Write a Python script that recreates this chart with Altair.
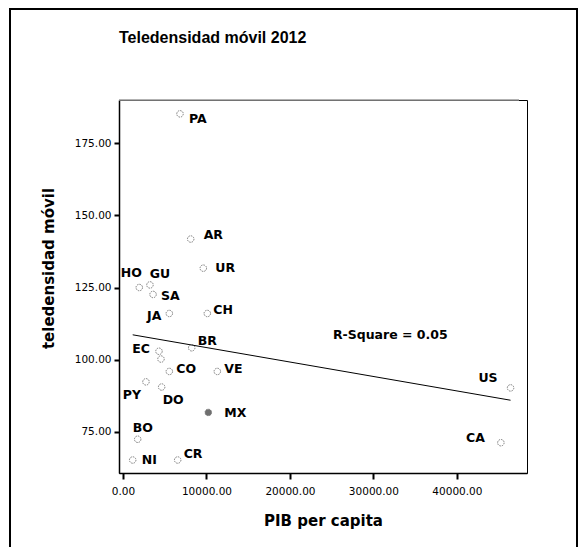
import altair as alt
import pandas as pd

# ---- data ----
codes = ["PA", "AR", "UR", "HO", "GU", "SA", "JA", "CH", "BR", "EC", "",
         "CO", "VE", "PY", "DO", "MX", "BO", "NI", "CR", "US", "CA"]
pib = [6830, 8110, 9620, 1950, 3230, 3600, 5550, 10100, 8230, 4310, 4550,
       5550, 11300, 2750, 4630, 10220, 1760, 1160, 6550, 46430, 45270]
tele = [185.2, 141.8, 131.7, 125.0, 125.9, 122.6, 116.0, 116.0, 104.1, 102.9, 100.2,
        95.9, 95.9, 92.3, 90.5, 81.7, 72.4, 65.2, 65.2, 90.2, 71.2]

x_ticks = [0, 10000, 20000, 30000, 40000]
y_ticks = [75, 100, 125, 150, 175]
title_text = "Teledensidad móvil 2012"

# label placement (pixel offsets, alignment) -- styling only
label_pos = {
    "PA": (9, 5, "left"), "AR": (13, -4, "left"), "UR": (12, 0, "left"),
    "HO": (-8, -15, "center"), "GU": (10, -11, "center"), "SA": (8, 2, "left"),
    "JA": (-8, 3, "right"), "CH": (6, -3, "left"), "BR": (6, -7, "left"),
    "EC": (-9, -2, "right"), "CO": (7, -2, "left"), "VE": (7, -2, "left"),
    "PY": (-5, 13, "right"), "DO": (1, 13, "left"), "MX": (16, 1, "left"),
    "BO": (-5, -11, "left"), "NI": (9, 0, "left"), "CR": (6, -6, "left"),
    "US": (-13, -10, "right"), "CA": (-16, -5, "right"),
}
RSQ_X, RSQ_Y = 25150, 108.7

df = pd.DataFrame({"code": codes, "pib": pib, "tele": tele})

xscale = alt.Scale(domain=[-480, 48400], nice=False, zero=False)
yscale = alt.Scale(domain=[60.7, 190], nice=False, zero=False)

X = alt.X("pib:Q", scale=xscale,
          axis=alt.Axis(values=x_ticks, format=".2f", title="PIB per capita",
                        grid=False, tickSize=6, tickWidth=2, labelPadding=7,
                        titlePadding=17, titleFontSize=15))
Y = alt.Y("tele:Q", scale=yscale,
          axis=alt.Axis(values=y_ticks, format=".2f", title="teledensidad móvil",
                        grid=False, tickSize=5, tickWidth=2, labelPadding=3,
                        titleX=-63, titleY=168, titleFontSize=15))

base = alt.Chart(df)

points = base.mark_point(shape="circle", filled=True, size=42, stroke="#444",
                         strokeWidth=1, strokeDash=[1.5, 1]).encode(
    x=X, y=Y,
    fill=alt.condition(alt.datum.code == "MX", alt.value("#333"), alt.value("transparent")),
)

reg = base.transform_regression("pib", "tele").mark_line(color="black", strokeWidth=1).encode(
    x="pib:Q", y="tele:Q")

rsq = base.transform_regression("pib", "tele", params=True).transform_calculate(
    txt="'R-Square = ' + format(datum.rSquared, '.2f')"
).mark_text(align="left", baseline="middle", font="DejaVu Sans", fontWeight="bold",
            fontSize=12.5, color="black").encode(
    x=alt.datum(RSQ_X), y=alt.datum(RSQ_Y), text="txt:N")

labels = []
for c, (dx, dy, al) in label_pos.items():
    labels.append(
        base.transform_filter(alt.datum.code == c).mark_text(
            dx=dx, dy=dy, align=al, baseline="middle", font="DejaVu Sans",
            fontWeight="bold", fontSize=12.5, color="black").encode(
            x="pib:Q", y="tele:Q", text="code:N")
    )

one = alt.Chart(pd.DataFrame({"t": [title_text]}))

frame = one.mark_rect(filled=False, stroke="black", strokeWidth=2, clip=False).encode(
    x=alt.value(-109), x2=alt.value(458), y=alt.value(-91), y2=alt.value(470))

top_edge = one.mark_rule(color="#999", strokeWidth=1.5).encode(
    x=alt.value(0), x2=alt.value(400), y=alt.value(0))

title = one.mark_text(align="left", baseline="middle", font="Liberation Sans",
                      fontSize=16, fontWeight="bold", color="black", clip=False).encode(
    x=alt.value(0), y=alt.value(-62), text="t:N")

chart = alt.layer(frame, title, reg, points, rsq, *labels, top_edge).properties(
    width=408, height=373,
    autosize=alt.AutoSizeParams(type="none"),
    padding={"left": 111, "top": 92, "right": 52, "bottom": 74},
    background="white",
).configure_view(stroke="black", strokeWidth=1).configure_axis(
    domainColor="black", domainWidth=1.5, tickColor="black",
    labelFont="DejaVu Sans", labelFontSize=10.5, labelColor="black",
    titleFont="DejaVu Sans", titleFontWeight="bold", titleColor="black",
)

chart.save("out.html", embed_options={"renderer": "svg", "actions": False})
